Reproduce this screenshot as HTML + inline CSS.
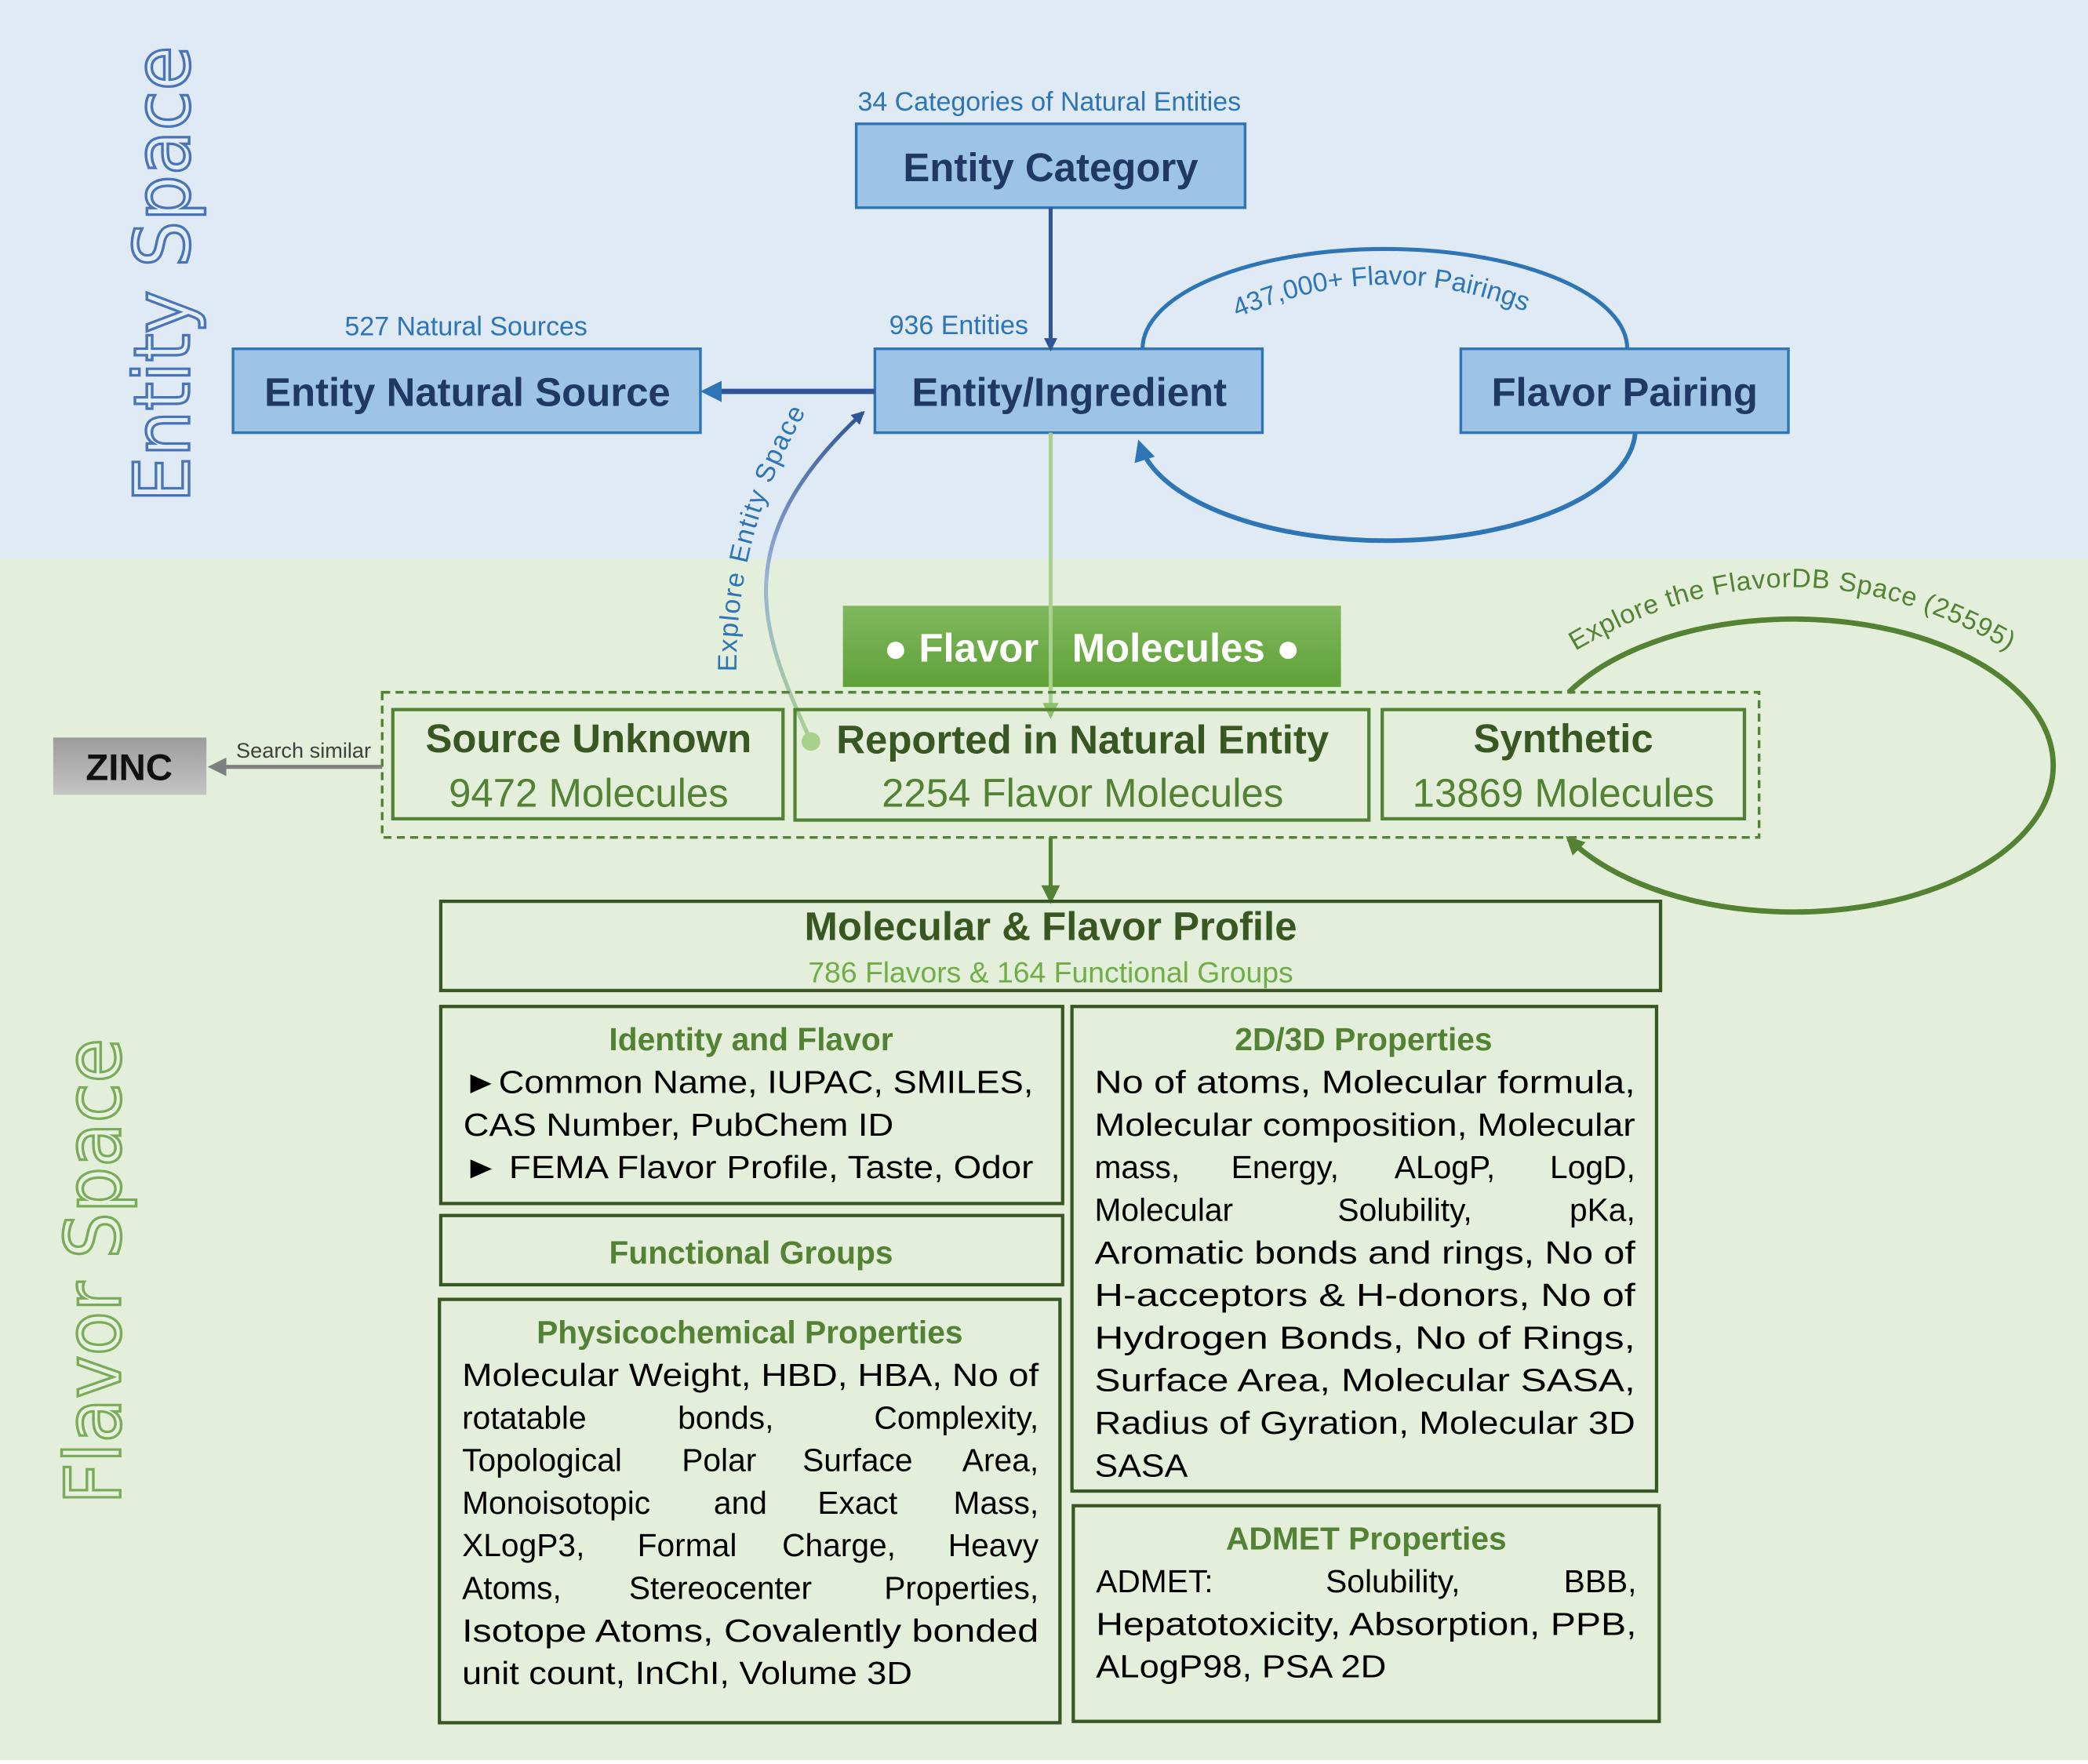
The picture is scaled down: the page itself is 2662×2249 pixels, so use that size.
<!DOCTYPE html>
<html><head><meta charset="utf-8"><style>
html,body{margin:0;padding:0;background:#fff}
svg{display:block}
text{font-family:"Liberation Sans",sans-serif}
.b{font-weight:bold}
</style></head><body>
<svg width="2662" height="2249" viewBox="0 0 1568 1325" preserveAspectRatio="none" xmlns="http://www.w3.org/2000/svg">
<defs>
<linearGradient id="gm" x1="0" y1="0" x2="0" y2="1"><stop offset="0" stop-color="#80b85e"/><stop offset="1" stop-color="#5fa137"/></linearGradient>
<linearGradient id="gz" x1="0" y1="0" x2="0" y2="1"><stop offset="0" stop-color="#9c9c9c"/><stop offset="1" stop-color="#c4c4c4"/></linearGradient>
<linearGradient id="ge" x1="0" y1="1" x2="0" y2="0"><stop offset="0" stop-color="#a9d18e"/><stop offset="0.5" stop-color="#9bb3d8"/><stop offset="1" stop-color="#2f5597"/></linearGradient>
<marker id="ab" markerWidth="10" markerHeight="10" refX="8" refY="5" orient="auto" markerUnits="userSpaceOnUse"><path d="M0,0 L10,5 L0,10 z" fill="#2f5597"/></marker>
<marker id="ab2" markerWidth="16" markerHeight="16" refX="12" refY="8" orient="auto" markerUnits="userSpaceOnUse"><path d="M0,0 L16,8 L0,16 z" fill="#2e75b6"/></marker>
<marker id="ag" markerWidth="14" markerHeight="14" refX="11" refY="7" orient="auto" markerUnits="userSpaceOnUse"><path d="M0,0 L14,7 L0,14 z" fill="#548235"/></marker>
<marker id="alg" markerWidth="12" markerHeight="14" refX="10" refY="6" orient="auto" markerUnits="userSpaceOnUse"><path d="M0,0 L12,6 L0,12 z" fill="#8cc06a"/></marker>
<marker id="agr" markerWidth="14" markerHeight="14" refX="10" refY="7" orient="auto" markerUnits="userSpaceOnUse"><path d="M0,0 L14,7 L0,14 z" fill="#7f7f7f"/></marker>
<path id="pp" d="M 905,250 Q 1040,180 1170,245"/>
<path id="pf" d="M 1170,497 Q 1345,385 1522,497"/>
<path id="pe" d="M 553,505 Q 552,400 606,308"/>
</defs>
<rect x="0" y="0" width="1568" height="420" fill="#dfeaf5"/>
<rect x="0" y="420" width="1568" height="902" fill="#e3efda"/>

<text transform="translate(142,206) rotate(-90)" text-anchor="middle" font-size="58" fill="#e4eef9" stroke="#4a74b8" stroke-width="2" textLength="343" lengthAdjust="spacingAndGlyphs" style="font-family:'DejaVu Sans',sans-serif">Entity Space</text>
<text transform="translate(90,955) rotate(-90)" text-anchor="middle" font-size="58" fill="#e8f2e0" stroke="#7aab59" stroke-width="2" textLength="350" lengthAdjust="spacingAndGlyphs" style="font-family:'DejaVu Sans',sans-serif">Flavor Space</text>

<!-- top boxes -->
<text x="788" y="83" text-anchor="middle" font-size="20" fill="#2e75b6">34 Categories of Natural Entities</text>
<rect x="643" y="93" width="292" height="63" fill="#9dc3e6" stroke="#2e75b6" stroke-width="2"/>
<text x="789" y="136" text-anchor="middle" font-size="30" class="b" fill="#1f3864">Entity Category</text>
<text x="350" y="252" text-anchor="middle" font-size="20" fill="#2e75b6">527 Natural Sources</text>
<rect x="175" y="262" width="351" height="63" fill="#9dc3e6" stroke="#2e75b6" stroke-width="2"/>
<text x="351" y="305" text-anchor="middle" font-size="30" class="b" fill="#1f3864">Entity Natural Source</text>
<text x="720" y="251" text-anchor="middle" font-size="20" fill="#2e75b6">936 Entities</text>
<rect x="657" y="262" width="291" height="63" fill="#9dc3e6" stroke="#2e75b6" stroke-width="2"/>
<text x="803" y="305" text-anchor="middle" font-size="30" class="b" fill="#1f3864">Entity/Ingredient</text>
<rect x="1097" y="262" width="246" height="63" fill="#9dc3e6" stroke="#2e75b6" stroke-width="2"/>
<text x="1220" y="305" text-anchor="middle" font-size="30" class="b" fill="#1f3864">Flavor Pairing</text>

<line x1="789" y1="156" x2="789" y2="262" stroke="#2f5597" stroke-width="3" marker-end="url(#ab)"/>
<line x1="657" y1="294" x2="530" y2="294" stroke="#2f5597" stroke-width="4" marker-end="url(#ab2)"/>
<path d="M 858,262 A 182 75 0 0 1 1222,262" fill="none" stroke="#2e75b6" stroke-width="3"/>
<path d="M 1228,325 A 187 84 0 0 1 856,334" fill="none" stroke="#2e75b6" stroke-width="3.5" marker-end="url(#ab2)"/>
<text font-size="20" fill="#2e75b6"><textPath href="#pp" startOffset="50%" text-anchor="middle">437,000+ Flavor Pairings</textPath></text>

<!-- explore entity -->
<path d="M 609,557 C 575,480 540,410 648,310" fill="none" stroke="url(#ge)" stroke-width="3" marker-end="url(#ab)"/>
<circle cx="609" cy="557" r="7" fill="#a9d18e"/>
<text font-size="20" fill="#2e75b6" letter-spacing="1"><textPath href="#pe" startOffset="50%" text-anchor="middle">Explore Entity Space</textPath></text>

<!-- flavor molecules -->
<rect x="633" y="455" width="374" height="61" fill="url(#gm)"/>
<text x="820" y="497" text-anchor="middle" font-size="30" class="b" fill="#fff" style="white-space:pre">● Flavor   Molecules ●</text>
<line x1="789" y1="325" x2="789" y2="538" stroke="#a9d18e" stroke-width="3" marker-end="url(#alg)"/>

<rect x="287" y="520" width="1034" height="109" fill="none" stroke="#548235" stroke-width="2" stroke-dasharray="6,4"/>
<rect x="295" y="533" width="293" height="82" fill="none" stroke="#548235" stroke-width="2.5"/>
<rect x="597" y="533" width="431" height="83" fill="none" stroke="#548235" stroke-width="2.5"/>
<rect x="1038" y="533" width="272" height="82" fill="none" stroke="#548235" stroke-width="2.5"/>
<text x="442" y="565" text-anchor="middle" font-size="30" class="b" fill="#385723">Source Unknown</text>
<text x="442" y="606" text-anchor="middle" font-size="30" fill="#548235">9472 Molecules</text>
<text x="813" y="566" text-anchor="middle" font-size="30" class="b" fill="#385723">Reported in Natural Entity</text>
<text x="813" y="606" text-anchor="middle" font-size="30" fill="#548235">2254 Flavor Molecules</text>
<text x="1174" y="565" text-anchor="middle" font-size="30" class="b" fill="#385723">Synthetic</text>
<text x="1174" y="606" text-anchor="middle" font-size="30" fill="#548235">13869 Molecules</text>

<!-- ZINC -->
<rect x="40" y="554" width="115" height="43" fill="url(#gz)"/>
<text x="97" y="586" text-anchor="middle" font-size="28" class="b" fill="#111">ZINC</text>
<line x1="287" y1="576" x2="160" y2="576" stroke="#7f7f7f" stroke-width="3" marker-end="url(#agr)"/>
<text x="228" y="569" text-anchor="middle" font-size="16" fill="#404040">Search similar</text>

<!-- flavordb loop -->
<path d="M 1178,520 A 195 110 0 1 1 1178,630" fill="none" stroke="#548235" stroke-width="4" marker-end="url(#ag)"/>
<text font-size="20" fill="#548235" letter-spacing="0.5"><textPath href="#pf" startOffset="50%" text-anchor="middle">Explore the FlavorDB Space (25595)</textPath></text>

<line x1="789" y1="629" x2="789" y2="676" stroke="#548235" stroke-width="3" marker-end="url(#ag)"/>

<!-- profile -->
<rect x="331" y="677" width="916" height="67" fill="none" stroke="#385723" stroke-width="2.5"/>
<text x="789" y="706" text-anchor="middle" font-size="30" class="b" fill="#385723">Molecular &amp; Flavor Profile</text>
<text x="789" y="738" text-anchor="middle" font-size="22" fill="#70ad47">786 Flavors &amp; 164 Functional Groups</text>

<g fill="none" stroke="#385723" stroke-width="2.5">
<rect x="331" y="756" width="467" height="148"/>
<rect x="331" y="913" width="467" height="52"/>
<rect x="330" y="976" width="466" height="318"/>
<rect x="805" y="756" width="439" height="364"/>
<rect x="806" y="1131" width="440" height="162"/>
</g>
<g font-size="24" class="b" fill="#548235" text-anchor="middle">
<text x="564" y="789">Identity and Flavor</text>
<text x="564" y="949">Functional Groups</text>
<text x="563" y="1009">Physicochemical Properties</text>
<text x="1024" y="789">2D/3D Properties</text>
<text x="1026" y="1164">ADMET Properties</text>
</g>
<g font-size="24" fill="#000">
<text x="348" y="821" textLength="428" lengthAdjust="spacingAndGlyphs">►Common Name, IUPAC, SMILES,</text>
<text x="348" y="853" textLength="323" lengthAdjust="spacingAndGlyphs">CAS Number, PubChem ID</text>
<text x="348" y="885" textLength="428" lengthAdjust="spacingAndGlyphs">►&#160;FEMA Flavor Profile, Taste, Odor</text>

<text x="347" y="1041" textLength="433" lengthAdjust="spacingAndGlyphs">Molecular Weight, HBD, HBA, No of</text>
<text x="347" y="1073">rotatable</text><text x="545" y="1073" text-anchor="middle">bonds,</text><text x="780" y="1073" text-anchor="end">Complexity,</text>
<text x="347" y="1105">Topological</text><text x="540" y="1105" text-anchor="middle">Polar</text><text x="644" y="1105" text-anchor="middle">Surface</text><text x="780" y="1105" text-anchor="end">Area,</text>
<text x="347" y="1137">Monoisotopic</text><text x="556" y="1137" text-anchor="middle">and</text><text x="644" y="1137" text-anchor="middle">Exact</text><text x="780" y="1137" text-anchor="end">Mass,</text>
<text x="347" y="1169">XLogP3,</text><text x="516" y="1169" text-anchor="middle">Formal</text><text x="630" y="1169" text-anchor="middle">Charge,</text><text x="780" y="1169" text-anchor="end">Heavy</text>
<text x="347" y="1201">Atoms,</text><text x="541" y="1201" text-anchor="middle">Stereocenter</text><text x="780" y="1201" text-anchor="end">Properties,</text>
<text x="347" y="1233" textLength="433" lengthAdjust="spacingAndGlyphs">Isotope Atoms, Covalently bonded</text>
<text x="347" y="1265" textLength="338" lengthAdjust="spacingAndGlyphs">unit count, InChI, Volume 3D</text>

<text x="822" y="821" textLength="406" lengthAdjust="spacingAndGlyphs">No of atoms, Molecular formula,</text>
<text x="822" y="853" textLength="406" lengthAdjust="spacingAndGlyphs">Molecular composition, Molecular</text>
<text x="822" y="885">mass,</text><text x="965" y="885" text-anchor="middle">Energy,</text><text x="1085" y="885" text-anchor="middle">ALogP,</text><text x="1228" y="885" text-anchor="end">LogD,</text>
<text x="822" y="917">Molecular</text><text x="1055" y="917" text-anchor="middle">Solubility,</text><text x="1228" y="917" text-anchor="end">pKa,</text>
<text x="822" y="949" textLength="406" lengthAdjust="spacingAndGlyphs">Aromatic bonds and rings, No of</text>
<text x="822" y="981" textLength="406" lengthAdjust="spacingAndGlyphs">H-acceptors &amp; H-donors, No of</text>
<text x="822" y="1013" textLength="406" lengthAdjust="spacingAndGlyphs">Hydrogen Bonds, No of Rings,</text>
<text x="822" y="1045" textLength="406" lengthAdjust="spacingAndGlyphs">Surface Area, Molecular SASA,</text>
<text x="822" y="1077" textLength="406" lengthAdjust="spacingAndGlyphs">Radius of Gyration, Molecular 3D</text>
<text x="822" y="1109" textLength="70" lengthAdjust="spacingAndGlyphs">SASA</text>

<text x="823" y="1196">ADMET:</text><text x="1046" y="1196" text-anchor="middle">Solubility,</text><text x="1229" y="1196" text-anchor="end">BBB,</text>
<text x="823" y="1228" textLength="406" lengthAdjust="spacingAndGlyphs">Hepatotoxicity, Absorption, PPB,</text>
<text x="823" y="1260" textLength="218" lengthAdjust="spacingAndGlyphs">ALogP98, PSA 2D</text>
</g>
</svg>
</body></html>
